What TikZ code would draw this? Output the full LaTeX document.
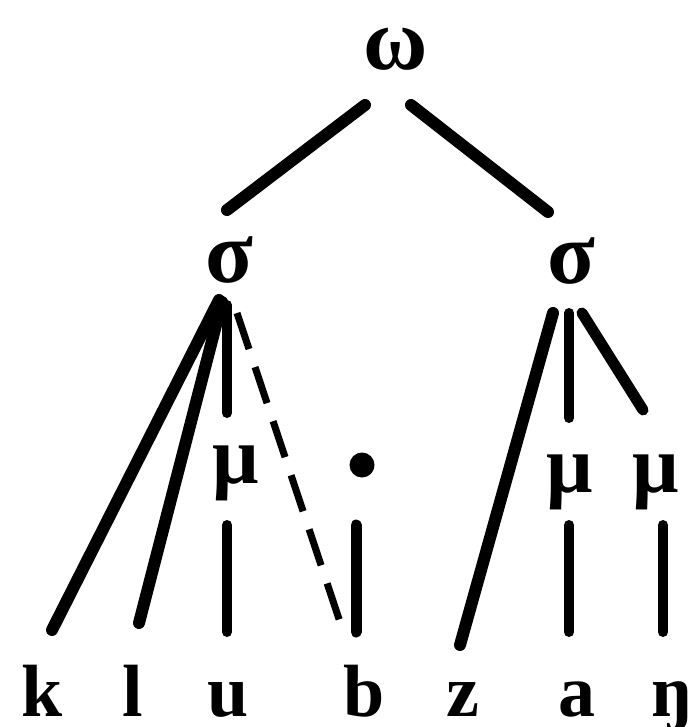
\documentclass[tikz,border=0pt]{standalone}
\usepackage{fontspec}
\setmainfont{Liberation Serif}
\begin{document}
\begin{tikzpicture}[x=1pt,y=-1pt,
  lab/.style={inner sep=0pt, anchor=base, font=\fontsize{74}{76}\selectfont\bfseries},
  grk/.style={inner sep=0pt, anchor=base, font=\fontsize{88}{90}\selectfont\bfseries},
  mulab/.style={inner sep=0pt, anchor=base, font=\fontsize{82}{84}\selectfont\bfseries},
  heavy/.style={line width=12pt, line cap=round},
  stem/.style={line width=10pt, line cap=round},
  dashline/.style={line width=7pt, dash pattern=on 38pt off 19pt}
]
\useasboundingbox (0,0) rectangle (698,727);
% labels
\node[grk] (omega) at (396,70) {ω};
\node[grk] (sigL) at (229,282) {σ};
\node[grk] (sigR) at (571,283) {σ};
\node[mulab] (muU) at (236,483) {μ};
\node[mulab] (muA) at (570,492) {μ};
\node[mulab] (muN) at (656,492) {μ};
\node[circle, fill, inner sep=0pt, minimum size=25pt] (dot) at (362,465) {};
\node[lab] (k) at (42,716) {k};
\node[lab] (l) at (133,716) {l};
\node[lab] (u) at (228,716) {u};
\node[lab] (b) at (364,716) {b};
\node[lab] (z) at (463,716) {z};
\node[lab] (a) at (577,716) {a};
\node[lab] (ng) at (672,716) {ŋ};
% connector ends
\coordinate (oL) at (365,105); \coordinate (sLt) at (227,210);
\coordinate (oR) at (411,105); \coordinate (sRt) at (548,212);
\coordinate (sLa) at (219,300); \coordinate (kt) at (52,630);
\coordinate (sLb) at (222,302); \coordinate (lt) at (139,623);
\coordinate (sLc) at (227,305); \coordinate (muUt) at (227,413);
\coordinate (sLd) at (237,313); \coordinate (bd) at (340,622);
\coordinate (muUb) at (227,525); \coordinate (ut) at (227,632);
\coordinate (dotb) at (356,525); \coordinate (bt) at (356,632);
\coordinate (sRa) at (553,313); \coordinate (zt) at (460,645);
\coordinate (sRb) at (569,313); \coordinate (muAt) at (569,418);
\coordinate (sRc) at (582,313); \coordinate (muNt) at (643,410);
\coordinate (muAb) at (569,525); \coordinate (at) at (569,632);
\coordinate (muNb) at (663,525); \coordinate (ngt) at (663,632);
% connectors
\draw[heavy] (oL) -- (sLt);
\draw[heavy] (oR) -- (sRt);
\draw[heavy] (sLa) -- (kt);
\draw[heavy] (sLb) -- (lt);
\draw[stem] (sLc) -- (muUt);
\draw[dashline] (sLd) -- (bd);
\draw[stem] (muUb) -- (ut);
\draw[line width=11pt, line cap=round] (dotb) -- (bt);
\draw[heavy] (sRa) -- (zt);
\draw[stem] (sRb) -- (muAt);
\draw[line width=11pt, line cap=round] (sRc) -- (muNt);
\draw[stem] (muAb) -- (at);
\draw[stem] (muNb) -- (ngt);
\end{tikzpicture}
\end{document}
